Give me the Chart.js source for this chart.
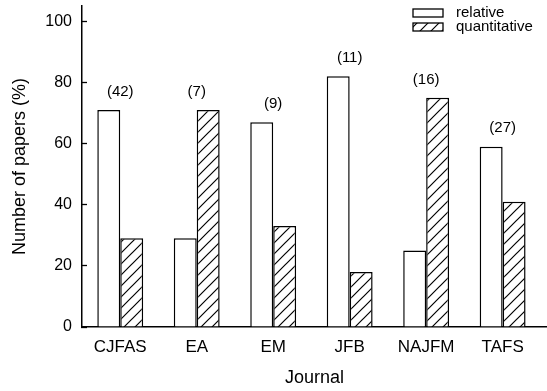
<!DOCTYPE html>
<html>
<head>
<meta charset="utf-8">
<script src="https://cdn.jsdelivr.net/npm/chart.js@4"></script>
<style>
  body { margin: 0; background: #fff; }
  canvas { display: block; }
</style>
</head>
<body>
<canvas id="myChart" width="547" height="391"></canvas>
<script>
// values
var journals = ['CJFAS', 'EA', 'EM', 'JFB', 'NAJFM', 'TAFS'];
var relative = [71, 29, 67, 82, 25, 59];
var quantitative = [29, 71, 33, 18, 75, 41];
var paperCounts = [42, 7, 9, 11, 16, 27];
var yTicks = [0, 20, 40, 60, 80, 100];

var FONT = "'Liberation Sans', Arial, Helvetica, sans-serif";

// diagonal hatch fill
function makeHatch() {
    var s = 11;
    var c = document.createElement('canvas');
    c.width = s;
    c.height = s;
    var g = c.getContext('2d');
    g.fillStyle = '#fff';
    g.fillRect(0, 0, s, s);
    g.strokeStyle = '#000';
    g.lineWidth = 1.2;
    g.beginPath();
    g.moveTo(0, s); g.lineTo(s, 0);
    g.moveTo(-2, 2); g.lineTo(2, -2);
    g.moveTo(s - 2, s + 2); g.lineTo(s + 2, s - 2);
    g.stroke();
    return g.createPattern(c, 'repeat');
}
var hatch = makeHatch();

// number of papers written above each pair
var countLabels = {
    id: 'countLabels',
    afterDatasetsDraw: function(chart) {
        var ctx = chart.ctx;
        var x = chart.scales.x, y = chart.scales.y;
        ctx.save();
        ctx.font = '15px ' + FONT;
        ctx.fillStyle = '#000';
        ctx.textAlign = 'center';
        ctx.textBaseline = 'middle';
        paperCounts.forEach(function(n, i) {
            var top = Math.max(relative[i], quantitative[i]) + 6;
            ctx.fillText('(' + n + ')', x.getPixelForValue(i), y.getPixelForValue(top));
        });
        ctx.restore();
    }
};

// small legend box in the top right corner
var boxLegend = {
    id: 'boxLegend',
    afterDraw: function(chart) {
        var ctx = chart.ctx;
        ctx.save();
        ctx.font = '15px ' + FONT;
        ctx.textBaseline = 'middle';
        ctx.textAlign = 'left';
        chart.data.datasets.forEach(function(ds, i) {
            var top = 9 + i * 14;
            ctx.fillStyle = ds.backgroundColor;
            ctx.fillRect(413, top, 30, 8);
            ctx.strokeStyle = '#000';
            ctx.lineWidth = 1.3;
            ctx.strokeRect(413, top, 30, 8);
            ctx.fillStyle = '#000';
            ctx.fillText(ds.label, 456, top + 4);
        });
        ctx.restore();
    }
};

var ctx = document.getElementById('myChart');

var myChart = new Chart(ctx, {
    type: 'bar',
    data: {
        datasets: [{
            label: 'relative',
            data: relative.map(function(v, i) { return { x: i, y: v }; }),
            backgroundColor: '#ffffff',
            borderColor: '#000000',
            borderWidth: 1.5,
            categoryPercentage: 0.6,
            barPercentage: 1.0
        }, {
            label: 'quantitative',
            data: quantitative.map(function(v, i) { return { x: i, y: v }; }),
            backgroundColor: hatch,
            borderColor: '#000000',
            borderWidth: 1.5,
            categoryPercentage: 0.6,
            barPercentage: 1.0
        }]
    },
    options: {
        responsive: false,
        animation: false,
        devicePixelRatio: 1,
        layout: { padding: { top: 6, right: 0, left: 0, bottom: 0 } },
        plugins: {
            legend: { display: false },
            tooltip: { enabled: false }
        },
        scales: {
            x: {
                type: 'linear',
                offset: false,
                min: -0.5,
                max: 5.58,
                afterBuildTicks: function(scale) {
                    scale.ticks = journals.map(function(_, i) { return { value: i }; });
                },
                afterFit: function(scale) {
                    scale.height = 64;
                    scale.paddingLeft = 0;
                    scale.paddingRight = 0;
                },
                ticks: {
                    autoSkip: false,
                    maxRotation: 0,
                    padding: 10,
                    color: '#000',
                    font: { family: FONT, size: 17 },
                    callback: function(v) { return journals[v]; }
                },
                grid: { display: true, offset: false, drawOnChartArea: false, drawTicks: false },
                border: { display: true, color: '#000', width: 1.5 },
                title: {
                    display: true,
                    text: 'Journal',
                    color: '#000',
                    font: { family: FONT, size: 18 },
                    padding: { top: 0, bottom: 2 }
                }
            },
            y: {
                min: 0,
                max: 105,
                afterBuildTicks: function(scale) {
                    scale.ticks = yTicks.map(function(v) { return { value: v }; });
                },
                afterFit: function(scale) {
                    scale.width = 82;
                    scale.paddingTop = 0;
                    scale.paddingBottom = 0;
                },
                ticks: {
                    padding: 15,
                    color: '#000',
                    font: { family: FONT, size: 16 }
                },
                grid: {
                    display: true,
                    drawOnChartArea: false,
                    drawTicks: true,
                    tickLength: -5,
                    tickColor: '#000',
                    tickWidth: 1.3
                },
                border: { display: true, color: '#000', width: 1.5 },
                title: {
                    display: true,
                    text: 'Number of papers (%)',
                    color: '#000',
                    font: { family: FONT, size: 18 },
                    padding: { top: 9, bottom: 0 }
                }
            }
        }
    },
    plugins: [countLabels, boxLegend]
});
</script>
</body>
</html>
